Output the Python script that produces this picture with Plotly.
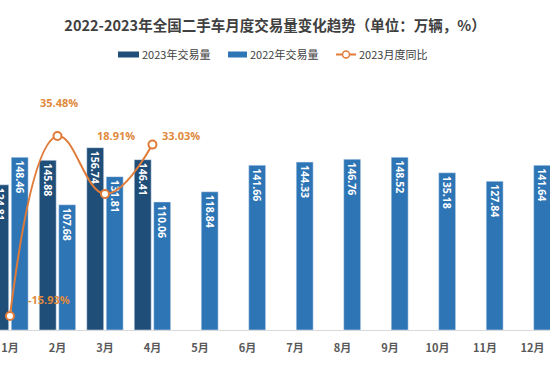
import plotly.graph_objects as go

months = ["1月", "2月", "3月", "4月", "5月", "6月", "7月", "8月", "9月", "10月", "11月", "12月"]
vol_2023 = [124.81, 145.88, 156.74, 146.41, None, None, None, None, None, None, None, None]
vol_2022 = [148.46, 107.68, 131.81, 110.06, 118.84, 141.66, 144.33, 146.76, 148.52, 135.18, 127.84, 141.64]
yoy_2023 = [-15.93, 35.48, 18.91, 33.03]

name_2023 = "2023年交易量"
name_2022 = "2022年交易量"
name_yoy = "2023月度同比"

# label offsets (pixels) for the YoY labels
yoy_label_shift = [(39, 16), (2, 34), (11, 59), (29, 9)]

c23 = "#1F4E79"
c22 = "#2E75B6"
corange = "#E07B39"
W, H = 550, 378
T, B = 95, 48

bar_font = dict(color="white", size=10.5, family="Open Sans", weight="bold")

fig = go.Figure()
fig.add_trace(go.Bar(
    x=months, y=vol_2023, name=name_2023, marker_color=c23,
    text=[f"{v:.2f}" if v is not None else "" for v in vol_2023],
    textposition="inside", insidetextanchor="end", textangle=90, constraintext="none",
    textfont=bar_font,
))
fig.add_trace(go.Bar(
    x=months, y=vol_2022, name=name_2022, marker_color=c22,
    text=[f"{v:.2f}" for v in vol_2022],
    textposition="inside", insidetextanchor="end", textangle=90, constraintext="none",
    textfont=bar_font,
))
fig.add_trace(go.Scatter(
    x=months[:len(yoy_2023)], y=yoy_2023, name=name_yoy, yaxis="y2",
    mode="lines+markers", line=dict(color=corange, width=2, shape="spline", smoothing=1.2),
    marker=dict(size=8, color="white", line=dict(color=corange, width=2)),
    cliponaxis=False,
))

for m, v, (dx, dy) in zip(months, yoy_2023, yoy_label_shift):
    fig.add_annotation(x=m, y=v, yref="y2", text=f"{v:.2f}%", showarrow=False,
                       xshift=dx, yshift=dy,
                       font=dict(color="#E08A3C", size=11, family="Open Sans", weight="bold"))

# custom legend (wide rectangle swatches like the original)
def py(p):
    return (H - B - p) / (H - T - B)

leg_y = 54.5
for x0, x1, col, label in [(118, 139, c23, name_2023), (228, 247, c22, name_2022)]:
    fig.add_shape(type="rect", xref="paper", yref="paper",
                  x0=x0 / W, x1=x1 / W, y0=py(leg_y + 3), y1=py(leg_y - 3),
                  fillcolor=col, line_width=0)
    fig.add_annotation(xref="paper", yref="paper", x=(x1 + 1) / W, y=py(leg_y),
                       xanchor="left", yanchor="middle", showarrow=False, text=label,
                       font=dict(size=11, color="#404040", family="Noto Sans CJK SC"))
fig.add_shape(type="line", xref="paper", yref="paper", x0=336 / W, x1=356 / W,
              y0=py(leg_y), y1=py(leg_y), line=dict(color=corange, width=2))
fig.add_shape(type="circle", xref="paper", yref="paper", x0=342.5 / W, x1=349.5 / W,
              y0=py(leg_y + 3.5), y1=py(leg_y - 3.5),
              fillcolor="white", line=dict(color=corange, width=1.5))
fig.add_annotation(xref="paper", yref="paper", x=357 / W, y=py(leg_y),
                   xanchor="left", yanchor="middle", showarrow=False, text=name_yoy,
                   font=dict(size=11, color="#404040", family="Noto Sans CJK SC"))

fig.update_layout(
    width=W, height=H,
    margin=dict(l=0, r=0, t=T, b=B, autoexpand=False),
    paper_bgcolor="white", plot_bgcolor="white",
    title=dict(text="<b>2022-2023年全国二手车月度交易量变化趋势（单位：万辆，%）</b>",
               x=0.5, xanchor="center", y=1 - 26 / H, yanchor="middle",
               font=dict(size=14.5, color="#404040", family="Noto Sans CJK SC")),
    barmode="group", bargap=0.18, bargroupgap=0.13,
    font=dict(family="Noto Sans CJK SC", color="#595959"),
    showlegend=False,
    xaxis=dict(range=[-0.21, 11.37], showline=True, linecolor="#D9D9D9", linewidth=1,
               ticks="", ticklabelstandoff=8, automargin=False,
               tickfont=dict(size=11, color="#595959", weight="bold"),
               showgrid=False),
    yaxis=dict(range=[0, 202], visible=False, showgrid=False),
    yaxis2=dict(range=[-19.94, 47.2], overlaying="y", side="right", visible=False, showgrid=False),
)

fig.write_html("out.html", config={"displayModeBar": False},
               post_script="document.body.style.margin='0';document.body.style.overflow='hidden';")
